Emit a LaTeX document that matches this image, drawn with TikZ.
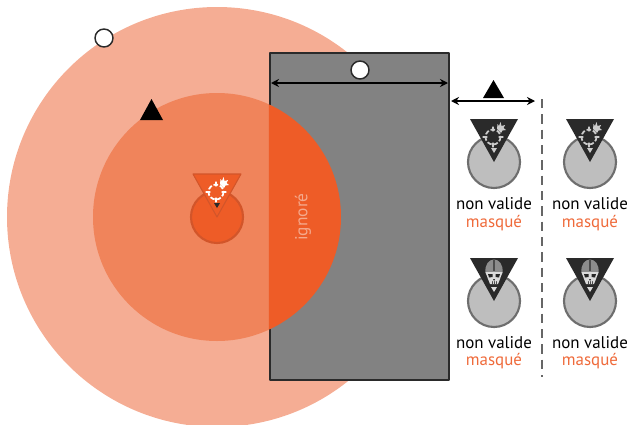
\documentclass[tikz,border=0pt]{standalone}
\usepackage{fontspec}
\setmainfont{PT Sans}
\usepackage{xcolor}
\usetikzlibrary{arrows.meta,positioning}
\definecolor{farzone}{HTML}{F5AD94}
\definecolor{nearzone}{HTML}{F0845B}
\definecolor{hotzone}{HTML}{EE5C27}
\definecolor{hotedge}{HTML}{D2552A}
\definecolor{wallgrey}{HTML}{828282}
\definecolor{ink}{HTML}{2A2A2A}
\definecolor{basegrey}{HTML}{BEBEBE}
\definecolor{baseedge}{HTML}{6E6E6E}
\definecolor{hidden}{HTML}{EF6A3A}
\definecolor{paleword}{HTML}{F5A98C}
\tikzset{
    every picture/.style={line cap=round,line join=round},
    basecircle/.style={circle,draw=baseedge,fill=basegrey,line width=1.6pt,
      minimum size=39pt,inner sep=0pt},
    rangecircle/.style={circle,draw=ink,fill=white,line width=1.1pt,
      minimum size=13.5pt,inner sep=0pt},
    rangetriangle/.style={fill=black,line width=0pt},
    widtharrow/.style={{Stealth[length=6pt,width=6pt]}-{Stealth[length=6pt,width=6pt]},
      draw=black,line width=1.7pt},
    validword/.style={font=\fontsize{12.7}{13}\selectfont,text=black,inner sep=0pt},
    hiddenword/.style={font=\fontsize{12.7}{13}\selectfont,text=hidden,inner sep=0pt},
    downmark/.pic={\path[pic actions] (-24,-43) -- (24,-43) -- (0,0) -- cycle;},
    reticle/.pic={
      \draw[pic actions,fill=none,line width=1.3pt,dash pattern=on 3.4pt off 1.5pt,line cap=butt] (-1,-25) circle (7.5);
      \draw[pic actions,line width=0.9pt] (-1,-35) -- (-1,-31) (-1,-19) -- (-1,-15)
        (-11,-25) -- (-7,-25) (5,-25) -- (9,-25);
      \path[pic actions,draw=none] (3,-33) -- (3.5,-38) -- (5,-36) -- (6.5,-40) -- (7.5,-36) -- (11,-37)
        -- (9.5,-34) -- (12,-32) -- (8.5,-31.5) -- (7,-29) -- cycle;
    },
    skullmark/.pic={
      \fill[black!45] (-8.5,-28) .. controls (-10.5,-46) and (10.5,-46) .. (8.5,-28) -- (5,-22) -- (-5,-22) -- cycle;
      \fill[black!70] (-1.2,-42) rectangle (1.2,-30);
      \fill[black!14] (-8.5,-29) -- (8.5,-29) -- (6,-22) -- (4,-17) -- (-4,-17) -- (-6,-22) -- cycle;
      \fill[black!85] (-6,-27) -- (-1.5,-27) -- (-1.5,-24) -- (-5,-23.5) -- cycle
        (6,-27) -- (1.5,-27) -- (1.5,-24) -- (5,-23.5) -- cycle;
      \fill[black!85] (-1,-22) -- (1,-22) -- (0,-20) -- cycle;
      \draw[black!70,line width=0.4pt] (-2,-19.5) -- (-2,-17) (0,-19.5) -- (0,-17) (2,-19.5) -- (2,-17);
      \fill[black!14] (-3,-14) -- (3,-14) -- (0,-9) -- cycle;
    },
    pointmark/.pic={\path[pic actions,draw=none] (-3,-14) -- (3,-14) -- (0,-9) -- cycle;}
}
\begin{document}
\begin{tikzpicture}[x=0.75pt,y=-0.75pt]
  \useasboundingbox (0,0) rectangle (629,425);
  \clip (0,0) rectangle (629,425);
  \fill[farzone] (217,217) circle (210);
  \fill[nearzone] (217,217) circle (124);
  \node[draw=ink,fill=wallgrey,line width=1.8pt,minimum width=134.25pt,minimum height=245.25pt,
    inner sep=0pt] (wall) at (359.5,216.5) {};
  \begin{scope}
    \clip (wall.south west) rectangle (wall.north east);
    \fill[hotzone] (217,217) circle (124);
  \end{scope}
  \node[rotate=90,text=paleword,font=\fontsize{13}{14}\selectfont,inner sep=0pt] (ignored) at (303,217) {ignoré};

  % central figure
  \node[basecircle,draw=hotedge,fill=hotzone] (centre) at (217,217) {};
  \pic[fill=hotzone,draw=hotedge,line width=0.8pt] at (centre.center) {downmark};
  \pic[draw=white,fill=white] at (centre.center) {reticle};
  \pic[fill=ink] at (centre.center) {pointmark};

  % range marks
  \node[rangecircle] (farmark) at (104,38) {};
  \node[rangecircle] (wallmark) at (360,70) {};
  \fill[rangetriangle] (140,120) -- (163,120) -- (151.5,99) -- cycle;
  \fill[rangetriangle] (483,98) -- (504,98) -- (493.5,80) -- cycle;

  \coordinate (wallL) at (271,83);
  \coordinate (wallR) at (448,83);
  \coordinate (gapL) at (451,101);
  \coordinate (gapR) at (535,101);
  \draw[widtharrow] (wallL) -- (wallR);
  \draw[widtharrow] (gapL) -- (gapR);

  \coordinate (fenceT) at (542,99);
  \coordinate (fenceB) at (542,377);
  \draw[draw=black!60,line width=1.4pt,dash pattern=on 7pt off 4.5pt,line cap=butt] (fenceT) -- (fenceB);

  % hidden models
  \foreach \x/\n in {494/a,590/b} {
    \node[basecircle] (top\n) at (\x,162) {};
    \pic[fill=ink] at (top\n.center) {downmark};
    \pic[draw=black!20,fill=black!20] at (top\n.center) {reticle};
    \pic[fill=black!20] at (top\n.center) {pointmark};
    \node[validword] (topword\n) at (\x,204) {non valide};
    \node[hiddenword] (tophid\n) at (\x,223) {masqué};
    \node[basecircle] (low\n) at (\x,301) {};
    \pic[fill=ink] at (low\n.center) {downmark};
    \pic at (low\n.center) {skullmark};
    \node[validword] (lowword\n) at (\x,343) {non valide};
    \node[hiddenword] (lowhid\n) at (\x,361) {masqué};
  }
\end{tikzpicture}
\end{document}
